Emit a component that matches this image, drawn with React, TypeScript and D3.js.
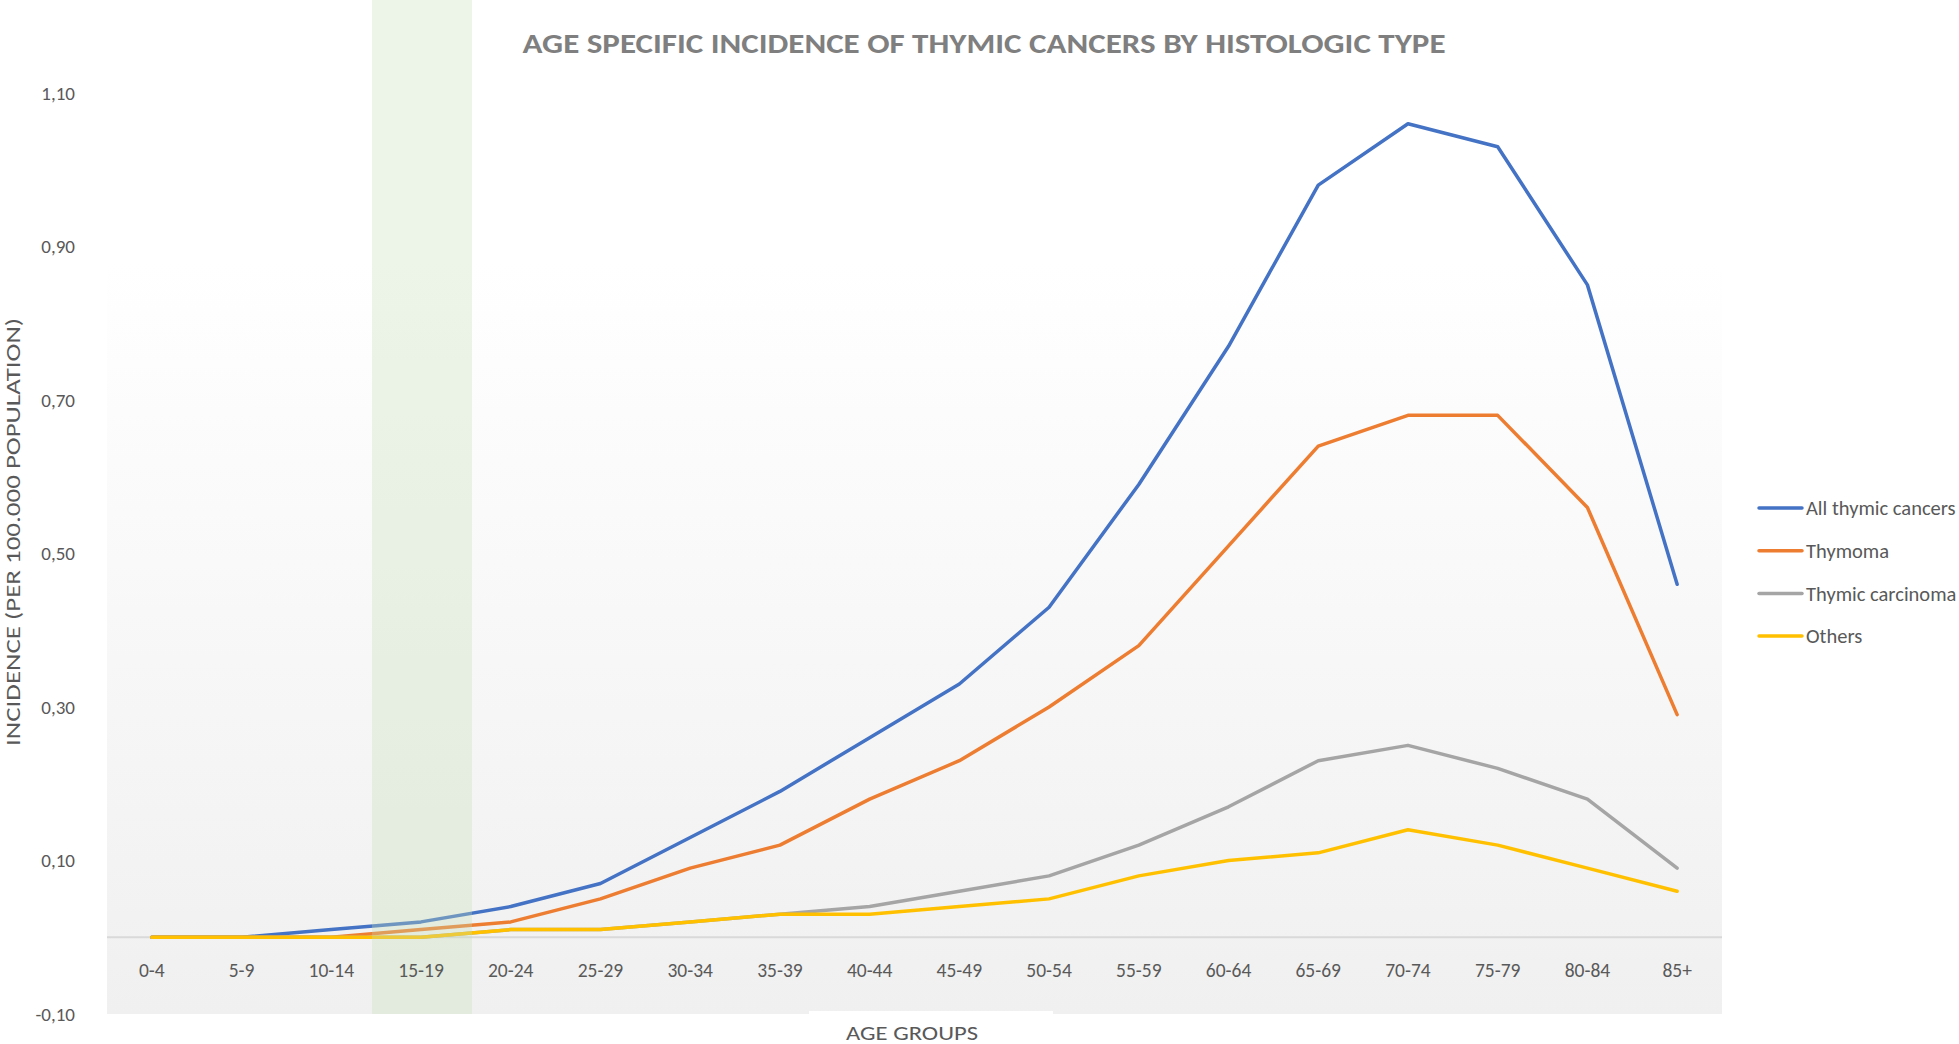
import * as d3 from "d3";
import { FC } from "react";

const AGE_GROUPS: string[] = [
  "0-4", "5-9", "10-14", "15-19", "20-24", "25-29", "30-34", "35-39", "40-44",
  "45-49", "50-54", "55-59", "60-64", "65-69", "70-74", "75-79", "80-84", "85+",
];

const ALL_THYMIC: number[] = [
  0, 0, 0.01, 0.02, 0.04, 0.07, 0.13, 0.19, 0.26, 0.33, 0.43, 0.59, 0.77, 0.98,
  1.06, 1.03, 0.85, 0.46,
];
const THYMOMA: number[] = [
  0, 0, 0, 0.01, 0.02, 0.05, 0.09, 0.12, 0.18, 0.23, 0.3, 0.38, 0.51, 0.64, 0.68,
  0.68, 0.56, 0.29,
];
const THYMIC_CARCINOMA: number[] = [
  0, 0, 0, 0, 0.01, 0.01, 0.02, 0.03, 0.04, 0.06, 0.08, 0.12, 0.17, 0.23, 0.25,
  0.22, 0.18, 0.09,
];
const OTHERS: number[] = [
  0, 0, 0, 0, 0.01, 0.01, 0.02, 0.03, 0.03, 0.04, 0.05, 0.08, 0.1, 0.11, 0.14,
  0.12, 0.09, 0.06,
];

const SERIES_NAMES = ["All thymic cancers", "Thymoma", "Thymic carcinoma", "Others"];
const SERIES_COLORS = ["#4472c4", "#ed7d31", "#a5a5a5", "#ffc000"];
const Y_TICKS: number[] = [-0.1, 0.1, 0.3, 0.5, 0.7, 0.9, 1.1];
const HIGHLIGHT = "15-19";

const WIDTH = 1959;
const HEIGHT = 1044;
const FONT = "Calibri, 'Liberation Sans Narrow', 'Open Sans', sans-serif";

const App: FC = () => {
  const margin = { left: 107, right: 1722, top: 93, bottom: 1014 };
  const x = d3
    .scaleBand<string>()
    .domain(AGE_GROUPS)
    .range([margin.left, margin.right]);
  const y = d3
    .scaleLinear()
    .domain([-0.1, 1.1])
    .range([margin.bottom, margin.top]);

  const line = d3
    .line<number>()
    .x((_, i) => (x(AGE_GROUPS[i]) as number) + x.bandwidth() / 2)
    .y((d) => y(d));

  const series = [ALL_THYMIC, THYMOMA, THYMIC_CARCINOMA, OTHERS];
  const fmt = (v: number) => d3.format(".2f")(v).replace(".", ",").replace("−", "-");
  const hx = (x(HIGHLIGHT) as number) + x.bandwidth() / 2;

  return (
    <svg
      width={WIDTH}
      height={HEIGHT}
      style={{ position: "absolute", left: 0, top: 0, background: "#fff" }}
      fontFamily={FONT}
    >
      <defs>
        <linearGradient id="plotbg" x1="0" y1="0" x2="0" y2="1">
          <stop offset="0" stopColor="#ffffff" />
          <stop offset="0.2" stopColor="#ffffff" />
          <stop offset="1" stopColor="#f0f0f0" />
        </linearGradient>
      </defs>
      <rect
        x={margin.left}
        y={margin.top - 20}
        width={margin.right - margin.left}
        height={margin.bottom - margin.top + 20}
        fill="url(#plotbg)"
      />

      {/* zero axis */}
      <line
        x1={margin.left}
        x2={margin.right}
        y1={y(0)}
        y2={y(0)}
        stroke="#d9d9d9"
        strokeWidth={2}
      />

      {series.map((s, i) => (
        <path
          key={SERIES_NAMES[i]}
          d={line(s) || ""}
          fill="none"
          stroke={SERIES_COLORS[i]}
          strokeWidth={3.5}
          strokeLinejoin="round"
          strokeLinecap="round"
        />
      ))}

      {/* highlighted age band */}
      <rect
        x={hx - 49}
        y={0}
        width={100}
        height={margin.bottom}
        fill="#c5e0b4"
        opacity={0.32}
      />

      {AGE_GROUPS.map((g) => (
        <text
          key={g}
          x={(x(g) as number) + x.bandwidth() / 2}
          y={y(0) + 40}
          textAnchor="middle"
          fontSize={19.5}
          fill="#595959"
        >
          {g}
        </text>
      ))}

      {Y_TICKS.map((t) => (
        <text
          key={t}
          x={75}
          y={y(t)}
          dy="0.35em"
          textAnchor="end"
          fontSize={19}
          fill="#595959"
        >
          {fmt(t)}
        </text>
      ))}

      <text
        x={984}
        y={53}
        textAnchor="middle"
        fontSize={29}
        fontWeight="bold"
        fill="#7f7f7f"
        textLength={923}
        lengthAdjust="spacingAndGlyphs"
      >
        AGE SPECIFIC INCIDENCE OF THYMIC CANCERS BY HISTOLOGIC TYPE
      </text>

      <text
        transform="translate(20, 532) rotate(-90)"
        textAnchor="middle"
        fontSize={20}
        fill="#595959"
        textLength={428}
        lengthAdjust="spacingAndGlyphs"
      >
        INCIDENCE (PER 100.000 POPULATION)
      </text>

      <rect x={809} y={1011} width={244} height={33} fill="#ffffff" />
      <text
        x={912}
        y={1040}
        textAnchor="middle"
        fontSize={20}
        fill="#595959"
        textLength={132}
        lengthAdjust="spacingAndGlyphs"
      >
        AGE GROUPS
      </text>

      {SERIES_NAMES.map((name, i) => {
        const ly = 508 + i * 42.7;
        return (
          <g key={name}>
            <line
              x1={1759}
              x2={1802}
              y1={ly}
              y2={ly}
              stroke={SERIES_COLORS[i]}
              strokeWidth={3.5}
              strokeLinecap="round"
            />
            <text x={1806} y={ly} dy="0.35em" fontSize={20.5} fill="#595959">
              {name}
            </text>
          </g>
        );
      })}
    </svg>
  );
};

export default App;
